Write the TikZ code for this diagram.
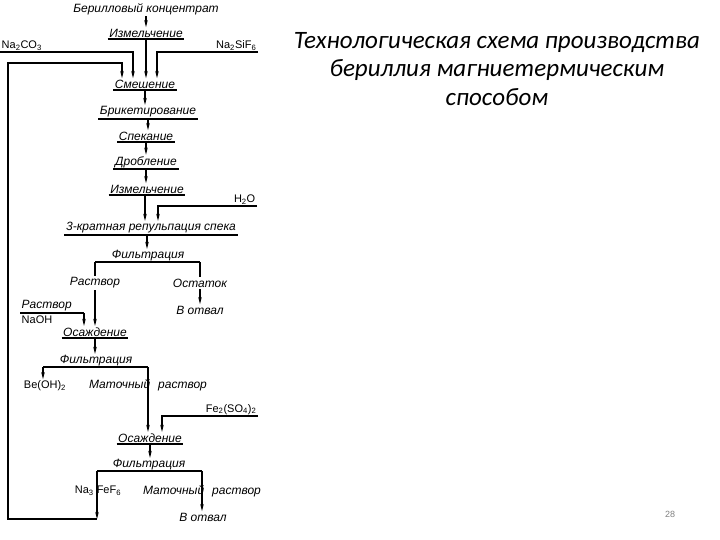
\documentclass[tikz,border=0pt]{standalone}
\usepackage{fontspec}
\setmainfont{Liberation Sans}
\newfontfamily\titlefont{Carlito}
\usetikzlibrary{arrows.meta}
\begin{document}
\begin{tikzpicture}[x=1pt,y=-1pt,
  lbl/.style={font=\fontsize{12}{14}\selectfont\itshape, inner sep=1.5pt},
  chem/.style={font=\fontsize{11}{13}\selectfont, inner sep=1.5pt},
  ul/.style={lbl, append after command={(\tikzlastnode.south west) edge[line width=1.7pt] (\tikzlastnode.south east)}},
  arr/.style={line width=1.1pt, -{Stealth[length=7pt,width=3.5pt]}},
  ln/.style={line width=1.1pt},
  bar/.style={line width=1.9pt}]
\useasboundingbox (0,0) rectangle (720,540);

% title
\node[font=\titlefont\fontsize{25}{28.5}\selectfont\itshape, align=center] (title) at (497,69)
  {Технологическая схема производства\\бериллия магниетермическим\\способом};
\node[font=\fontsize{9}{10}\selectfont, text=gray] (pg) at (670,514) {28};

% nodes
\node[lbl] (top) at (146,9) {Берилловый концентрат};
\node[ul] (izm1) at (146,33) {Измельчение};
\node[chem, anchor=south west] (na2co3) at (0,52) {Na\textsubscript{2}CO\textsubscript{3}};
\node[chem, anchor=south east] (na2sif6) at (258,52) {Na\textsubscript{2}SiF\textsubscript{6}};
\node[ul] (smesh) at (145,84) {Смешение};
\node[ul] (brik) at (148,112) {Брикетирование};
\node[ul] (spek) at (146,136) {Спекание};
\node[ul] (drob) at (146,162) {Дробление};
\node[ul] (izm2) at (147,189) {Измельчение};
\node[chem, anchor=south east] (h2o) at (257,206) {H\textsubscript{2}O};
\node[ul] (rep) at (151,228) {3-кратная репульпация спека};
\node[lbl] (filt1) at (148,256) {Фильтрация};
\coordinate (f1l) at (95,262);
\coordinate (f1r) at (200,262);
\node[lbl] (rastv1) at (95,283) {Раствор};
\node[lbl] (ostat) at (200,283) {Остаток};
\node[lbl] (otval1) at (200,310) {В отвал};
\node[lbl, anchor=south west] (rastv2) at (20,313) {Раствор};
\node[chem, anchor=north west] (naoh) at (20,314) {NaOH};
\coordinate (r2e) at (84,313);
\node[ul] (osazh1) at (95,332) {Осаждение};
\node[lbl] (filt2) at (96,361) {Фильтрация};
\coordinate (f2l) at (43,367);
\coordinate (f2r) at (148,367);
\node[chem] (beoh) at (45,386) {Be(OH)\textsubscript{2}};
\node[lbl] (mat1) at (148,385) {Маточный\hspace{8pt}раствор};
\node[chem, anchor=south east] (fe) at (258,416) {Fe\textsubscript{2}(SO\textsubscript{4})\textsubscript{2}};
\node[ul] (osazh2) at (150,438) {Осаждение};
\node[lbl] (filt3) at (149,465) {Фильтрация};
\coordinate (f3l) at (97,471);
\coordinate (f3r) at (202,471);
\node[chem] (na3) at (98,491) {Na\textsubscript{3}\hspace{3pt}FeF\textsubscript{6}};
\node[lbl] (mat2) at (202,491) {Маточный\hspace{8pt}раствор};
\node[lbl] (otval2) at (203,517) {В отвал};
\coordinate (c1) at (97,519);
\coordinate (rb) at (8,519);
\coordinate (rt) at (8,63);

% connectors
\draw[arr] (top.south) -- (top.south |- izm1.north);
\draw[arr] (izm1.south) -- (izm1.south |- smesh.north);
\draw[arr] (na2co3.south west) -| ([xshift=-12pt]smesh.north);
\draw[arr] (na2sif6.south east) -| ([xshift=12pt]smesh.north);
\draw[arr] (c1) -- (rb) -- (rt) -| ([xshift=-23pt]smesh.north);
\draw[arr] (smesh.south) -- (smesh.south |- brik.north);
\draw[arr] (brik.south) -- (brik.south |- spek.north);
\draw[arr] (spek.south) -- (spek.south |- drob.north);
\draw[arr] (drob.south) -- (drob.south |- izm2.north);
\draw[arr] ([xshift=-2pt]izm2.south) -- ([xshift=-2pt]izm2.south |- rep.north);
\draw[arr] (h2o.south east) -| ([xshift=11pt]izm2.south |- rep.north);
\draw[arr] ([xshift=-4pt]rep.south) -- ([xshift=-4pt]rep.south |- filt1.north);
\draw[bar] (f1l) -- (f1r);
\draw[ln] (f1l) -- (rastv1.north);
\draw[arr] (rastv1.south) -- (rastv1.south |- osazh1.north);
\draw[ln] (f1r) -- (ostat.north);
\draw[arr] (ostat.south) -- (ostat.south |- otval1.north);
\draw[ln] (rastv2.south west) -- (r2e);
\draw[arr] (r2e) -- (r2e |- osazh1.north);
\draw[arr] (osazh1.south) -- (osazh1.south |- filt2.north);
\draw[bar] (f2l) -- (f2r);
\draw[arr] (f2l) -- (f2l |- beoh.north);
\draw[arr] (f2r) -- (f2r |- osazh2.north);
\draw[arr] (fe.south east) -| ([xshift=12pt]osazh2.north);
\draw[arr] (osazh2.south) -- (osazh2.south |- filt3.north);
\draw[bar] (f3l) -- (f3r);
\draw[arr] (f3l) -- (c1);
\draw[arr] (f3r) -- (f3r |- otval2.north);
\end{tikzpicture}
\end{document}
